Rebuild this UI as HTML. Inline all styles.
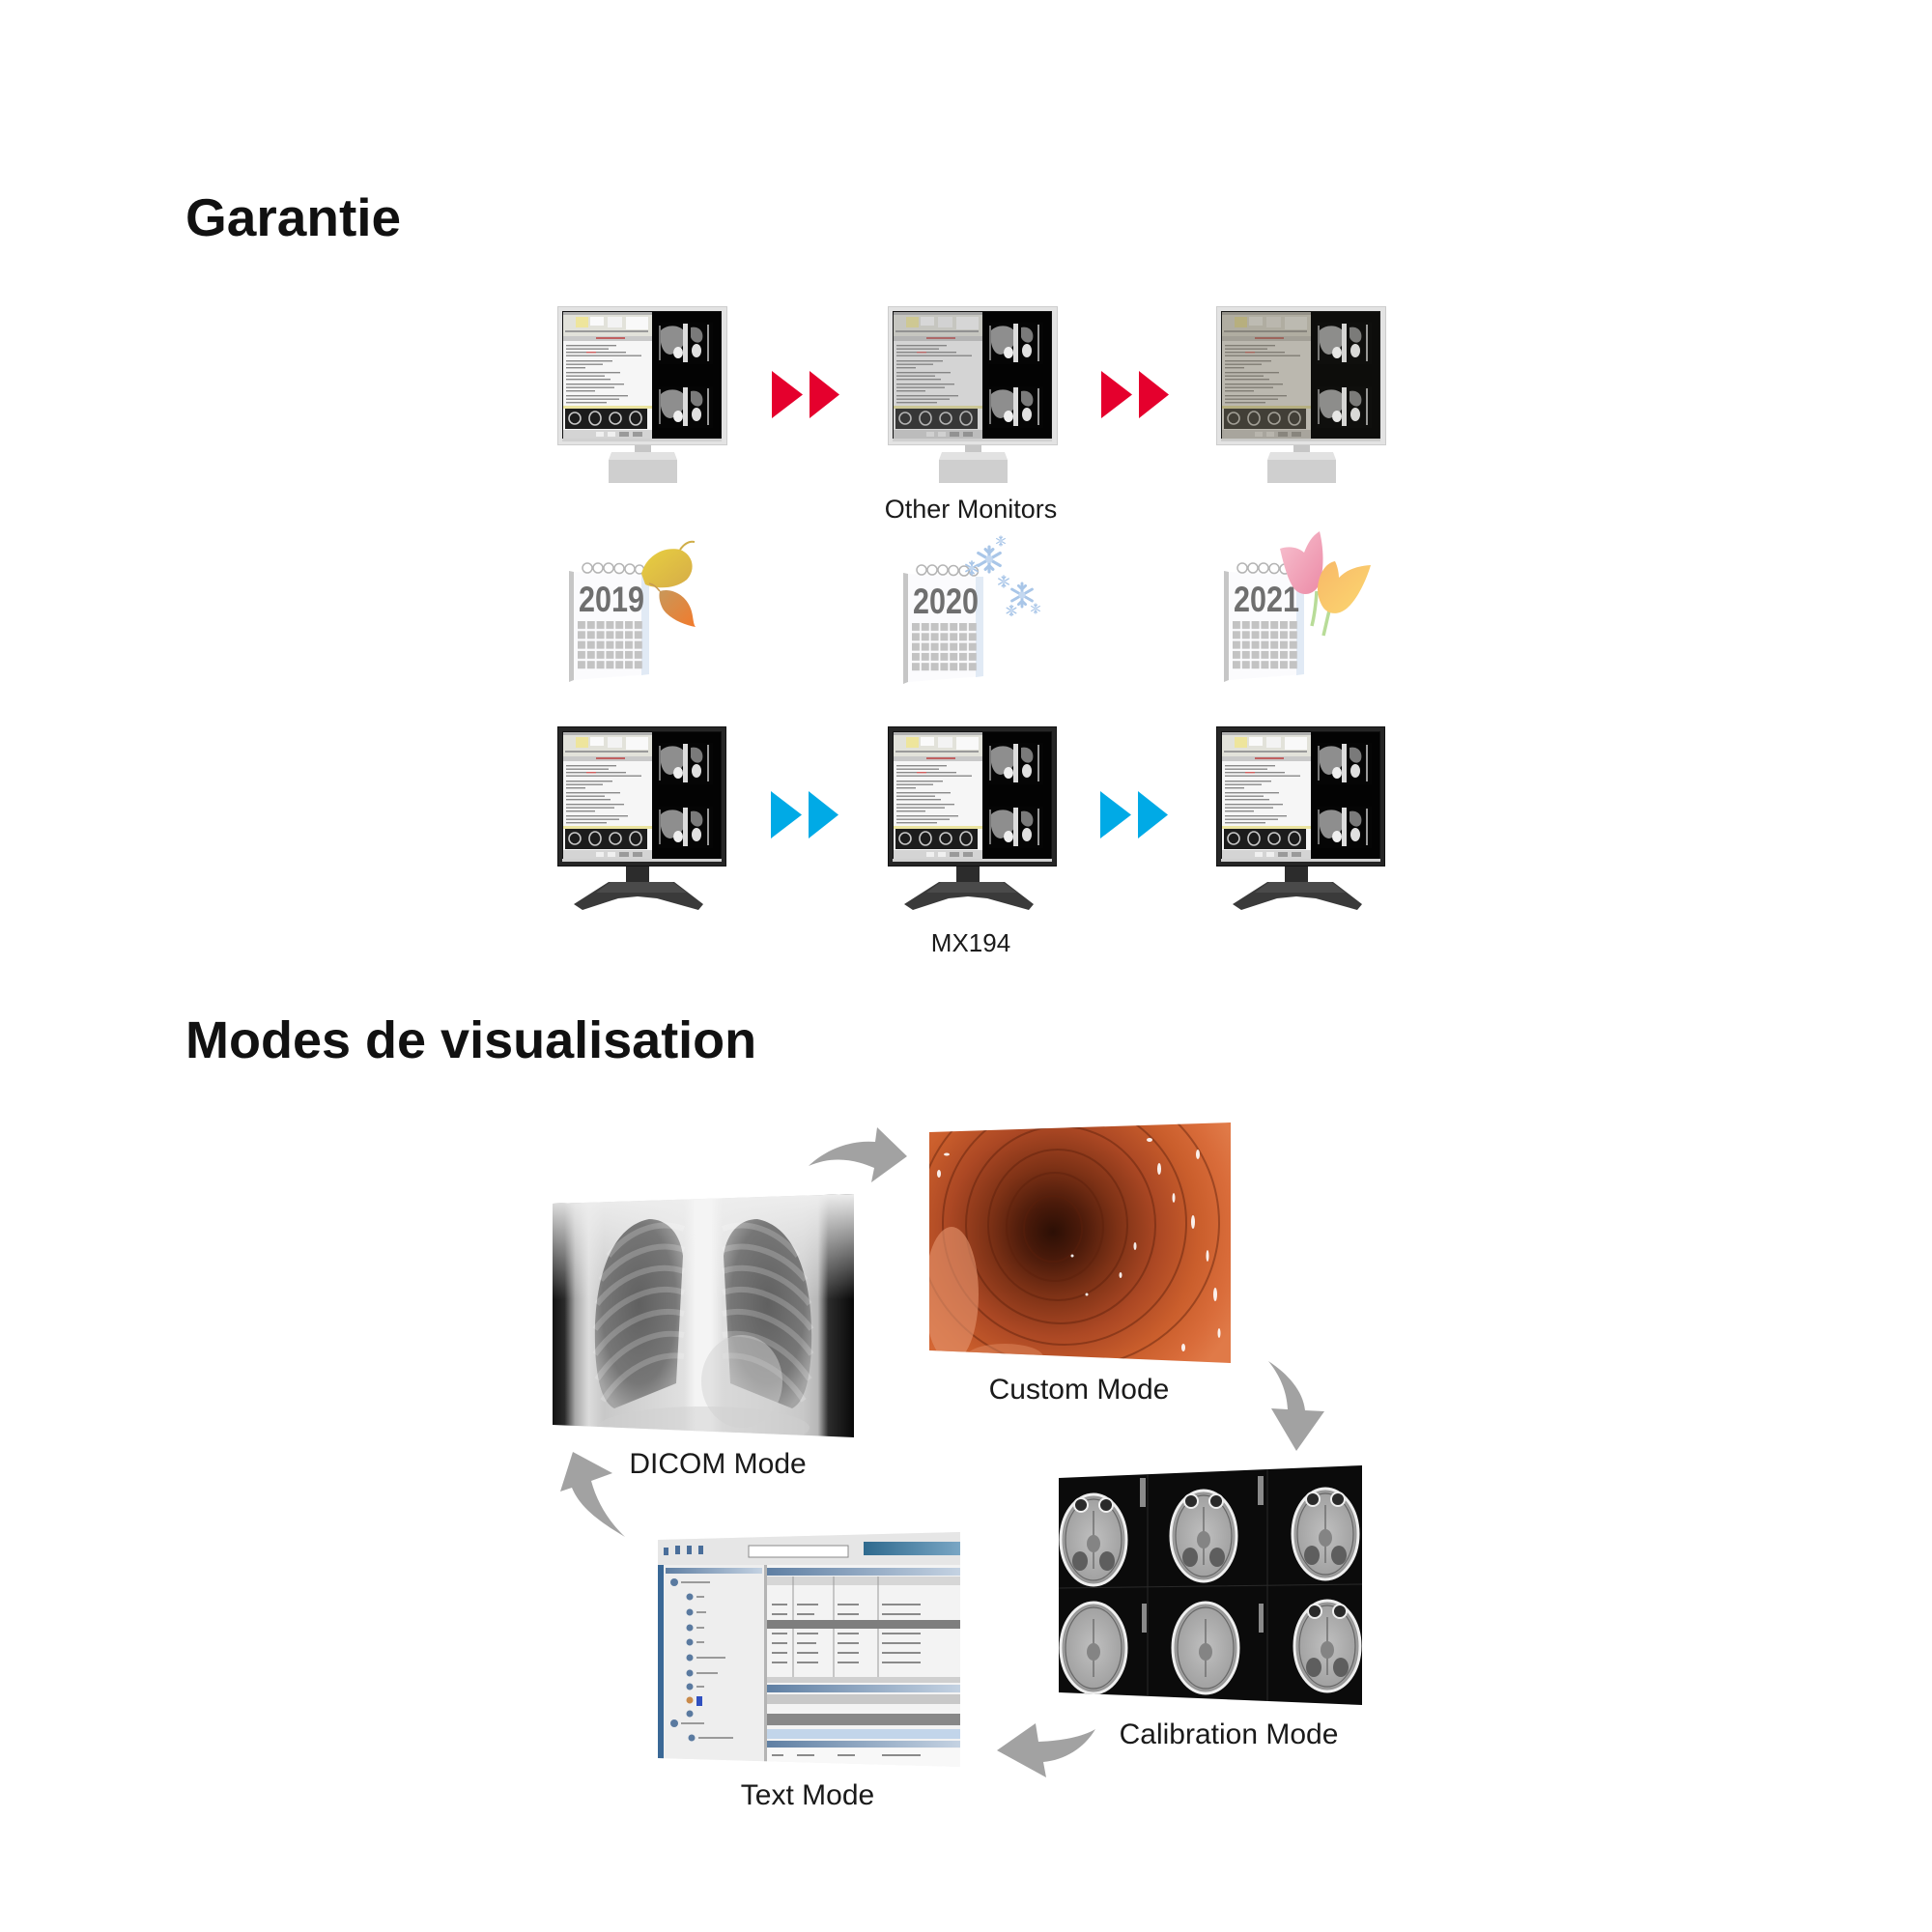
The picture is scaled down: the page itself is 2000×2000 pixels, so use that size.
<!DOCTYPE html>
<html><head><meta charset="utf-8"><style>html,body{margin:0;padding:0;background:#fff}svg{display:block}</style></head>
<body>
<svg width="2000" height="2000" viewBox="0 0 2000 2000" xmlns="http://www.w3.org/2000/svg" xmlns:xlink="http://www.w3.org/1999/xlink">
<defs>
 <g id="ct">
  <rect x="0" y="0" width="57" height="43" fill="#050505"/>
  <path d="M3,8 C10,1 24,2 28,10 C31,20 23,31 13,33 C6,33 1,23 3,8Z" fill="#8e8e8e"/>
  <rect x="26" y="1" width="5" height="40" fill="#dcdcdc"/>
  <ellipse cx="21" cy="31" rx="5" ry="6" fill="#efefef"/>
  <ellipse cx="40" cy="29" rx="5" ry="7" fill="#e0e0e0"/>
  <path d="M34,5 C42,3 48,9 46,17 C44,23 36,21 34,15Z" fill="#7a7a7a"/>
  <rect x="51" y="2" width="2" height="38" fill="#9a9a9a"/>
  <rect x="1" y="3" width="2" height="36" fill="#777"/>
 </g>
 <g id="scr">
  <rect x="5" y="5" width="165" height="134" fill="#111"/>
  <rect x="6" y="6" width="92" height="131" fill="#f6f6f6"/>
  <rect x="6" y="6" width="92" height="3" fill="#b0b0b0"/>
  <rect x="6" y="9" width="92" height="22" fill="#e2e2da"/>
  <rect x="19" y="11" width="13" height="11" fill="#eee59c"/>
  <rect x="34" y="11" width="14" height="9" fill="#fafafa"/>
  <rect x="52" y="11" width="15" height="11" fill="#f3f3f3"/>
  <rect x="71" y="11" width="23" height="13" fill="#f9f9f9"/>
  <rect x="8" y="25" width="86" height="2" fill="#9a9a9a"/>
  <rect x="6" y="31" width="92" height="5" fill="#c9c9c9"/>
  <rect x="40" y="32" width="30" height="2" fill="#c06060"/>
  <g fill="#8a8a8a">
   <rect x="9" y="40" width="52" height="1.4"/><rect x="9" y="43.5" width="44" height="1.4"/>
   <rect x="9" y="47" width="62" height="1.4"/><rect x="9" y="50.5" width="78" height="1.4"/>
   <rect x="9" y="56" width="48" height="1.4"/><rect x="9" y="59.5" width="38" height="1.4"/>
   <rect x="9" y="63" width="20" height="1.4"/><rect x="9" y="68" width="56" height="1.4"/>
   <rect x="9" y="71.5" width="40" height="1.4"/><rect x="9" y="75" width="46" height="1.4"/>
   <rect x="9" y="80" width="60" height="1.4"/><rect x="9" y="83.5" width="50" height="1.4"/>
   <rect x="9" y="87" width="30" height="1.4"/><rect x="9" y="92" width="64" height="1.4"/>
   <rect x="9" y="95.5" width="55" height="1.4"/><rect x="9" y="99" width="42" height="1.4"/>
  </g>
  <rect x="30" y="47" width="10" height="1.4" fill="#d06060"/>
  <rect x="6" y="103" width="92" height="3" fill="#ebe4a0"/>
  <rect x="8" y="106" width="85" height="21" fill="#1c1c1c"/>
  <g fill="none" stroke="#c8c8c8" stroke-width="1.6">
   <ellipse cx="18" cy="116" rx="6" ry="6"/><ellipse cx="39" cy="116" rx="6" ry="7"/>
   <ellipse cx="60" cy="116" rx="6" ry="6"/><ellipse cx="81" cy="116" rx="6" ry="7"/>
  </g>
  <rect x="6" y="128" width="92" height="9" fill="#d4d4d4"/>
  <rect x="40" y="130" width="8" height="5" fill="#f0f0f0"/><rect x="52" y="130" width="8" height="5" fill="#f0f0f0"/>
  <rect x="64" y="130" width="10" height="5" fill="#9a9a9a"/><rect x="78" y="130" width="10" height="5" fill="#9a9a9a"/>
  <rect x="98" y="6" width="71" height="131" fill="#030303"/>
  <use xlink:href="#ct" x="104" y="17"/>
  <use xlink:href="#ct" x="104" y="83"/>
  <rect x="5" y="137" width="165" height="3" fill="#d0d0d0"/>
 </g>
 <g id="monW">
  <rect x="80" y="142" width="17" height="11" fill="#c6c6c6"/>
  <path d="M56,151 L121,151 L124,159 L53,159Z" fill="#e2e2e2"/>
  <rect x="53" y="159" width="71" height="24" fill="#cfcfcf"/>
  <rect x="0.5" y="0.5" width="175" height="143" fill="#e3e3e3" stroke="#cdcdcd"/>
  <use xlink:href="#scr"/>
 </g>
 <g id="monB">
  <rect x="71" y="143" width="24" height="20" fill="#2c2c2c"/>
  <path d="M53,161 L121,161 L151,184 L146,190 L103,178 L83,176 L63,178 L26,190 L17,184Z" fill="#3a3a3a"/>
  <path d="M55,161 L119,161 L134,172 L40,172Z" fill="#4a4a4a"/>
  <rect x="0.5" y="0.5" width="174" height="144" fill="#262626" stroke="#111"/>
  <use xlink:href="#scr"/>
 </g>
 <pattern id="calgrid" x="18" y="93" width="9.8" height="10.3" patternUnits="userSpaceOnUse">
  <rect width="8" height="8" fill="#c3c3c3"/>
 </pattern>
 <g id="cal">
  <path d="M9,41 L14,42 L14,154 L9,156Z" fill="#c6c6c6"/>
  <path d="M14,42 L92,45 L92,148 L14,154Z" fill="#fbfbfd"/>
  <path d="M84,45 L92,45 L92,148 L84,149Z" fill="#e1eaf5"/>
  <g fill="none" stroke="#b4b4b4" stroke-width="1.5">
   <circle cx="28" cy="38" r="5"/><circle cx="39" cy="38" r="5"/><circle cx="50" cy="38" r="5"/>
   <circle cx="61" cy="38.5" r="5"/><circle cx="72" cy="39" r="5"/><circle cx="82" cy="39.5" r="4.5"/>
  </g>
  <rect x="18" y="93" width="68" height="51" fill="url(#calgrid)"/>
 </g>
 <g id="flake" stroke="#a9c6e8" stroke-width="2.4" stroke-linecap="round" fill="none">
  <path d="M0,-10 L0,10 M-8.7,-5 L8.7,5 M-8.7,5 L8.7,-5"/>
  <path d="M-3,-8 L0,-5 L3,-8 M-3,8 L0,5 L3,8"/>
  <circle r="3" fill="#c4d8f0" stroke="none"/>
 </g>
 <linearGradient id="leafY" x1="0" y1="0" x2="1" y2="1"><stop offset="0" stop-color="#e8d040"/><stop offset="1" stop-color="#d6ac48"/></linearGradient>
 <linearGradient id="leafO" x1="0" y1="0" x2="1" y2="1"><stop offset="0" stop-color="#c8985a"/><stop offset="1" stop-color="#f27a2c"/></linearGradient>
 <linearGradient id="tulP" x1="0" y1="0" x2="1" y2="1"><stop offset="0" stop-color="#f7c2d0"/><stop offset="1" stop-color="#ec8aa6"/></linearGradient>
 <linearGradient id="tulY" x1="0" y1="0" x2="1" y2="1"><stop offset="0" stop-color="#f8b868"/><stop offset="1" stop-color="#fbd870"/></linearGradient>

 <clipPath id="cChest"><polygon points="572,1246 884,1236 884,1488 572,1475"/></clipPath>
 <linearGradient id="gChestH" gradientUnits="userSpaceOnUse" x1="572" y1="0" x2="884" y2="0">
  <stop offset="0" stop-color="#121212"/><stop offset="0.04" stop-color="#2a2a2a"/>
  <stop offset="0.075" stop-color="#a8a8a8"/><stop offset="0.12" stop-color="#dcdcdc"/>
  <stop offset="0.17" stop-color="#c8c8c8"/><stop offset="0.5" stop-color="#e6e6e6"/>
  <stop offset="0.83" stop-color="#c8c8c8"/><stop offset="0.88" stop-color="#b8b8b8"/>
  <stop offset="0.915" stop-color="#2c2c2c"/><stop offset="1" stop-color="#080808"/>
 </linearGradient>
 <linearGradient id="gChestTop" gradientUnits="userSpaceOnUse" x1="0" y1="1236" x2="0" y2="1345">
  <stop offset="0" stop-color="#eeeeee" stop-opacity="1"/><stop offset="1" stop-color="#eeeeee" stop-opacity="0"/>
 </linearGradient>
 <radialGradient id="gLung" cx="0.5" cy="0.45" r="0.6">
  <stop offset="0" stop-color="#606060"/><stop offset="0.7" stop-color="#777777"/><stop offset="1" stop-color="#a4a4a4"/>
 </radialGradient>
 <linearGradient id="gSpine" x1="0" y1="0" x2="1" y2="0">
  <stop offset="0" stop-color="#f2f2f2" stop-opacity="0"/><stop offset="0.3" stop-color="#f4f4f4"/><stop offset="0.7" stop-color="#f4f4f4"/><stop offset="1" stop-color="#f2f2f2" stop-opacity="0"/>
 </linearGradient>

 <clipPath id="cEndo"><polygon points="962,1172 1274,1162 1274,1411 962,1398"/></clipPath>
 <radialGradient id="gEndo" gradientUnits="userSpaceOnUse" cx="1090" cy="1275" r="210">
  <stop offset="0" stop-color="#2c0f05"/><stop offset="0.14" stop-color="#4a1a0a"/>
  <stop offset="0.32" stop-color="#7e3216"/><stop offset="0.52" stop-color="#ac4824"/>
  <stop offset="0.72" stop-color="#ca5e2c"/><stop offset="0.88" stop-color="#d96c3a"/>
  <stop offset="1" stop-color="#e07a48"/>
 </radialGradient>

 <clipPath id="cBrain"><polygon points="1096,1530 1410,1517 1410,1765 1096,1752"/></clipPath>
 <radialGradient id="gBrain" cx="0.5" cy="0.5" r="0.55">
  <stop offset="0" stop-color="#c0c0c0"/><stop offset="0.8" stop-color="#a2a2a2"/><stop offset="1" stop-color="#7a7a7a"/>
 </radialGradient>
 <g id="slice">
  <ellipse cx="0" cy="0" rx="34" ry="47" fill="url(#gBrain)" stroke="#eeeeee" stroke-width="3"/>
  <ellipse cx="0" cy="0" rx="29" ry="42" fill="none" stroke="#666" stroke-width="1.2"/>
  <path d="M0,-30 L0,30" stroke="#707070" stroke-width="1.5"/>
  <ellipse cx="0" cy="4" rx="7" ry="9" fill="#848484"/>
 </g>
 <g id="sliceT">
  <use xlink:href="#slice"/>
  <circle cx="-13" cy="-36" r="7" fill="#2a2a2a" stroke="#eeeeee" stroke-width="2"/>
  <circle cx="13" cy="-36" r="7" fill="#2a2a2a" stroke="#eeeeee" stroke-width="2"/>
  <ellipse cx="-14" cy="22" rx="8" ry="10" fill="#5e5e5e"/>
  <ellipse cx="14" cy="22" rx="8" ry="10" fill="#5e5e5e"/>
 </g>

 <clipPath id="cText"><polygon points="681,1594 994,1586 994,1829 681,1820"/></clipPath>
 <linearGradient id="gBlueBar" x1="0" y1="0" x2="1" y2="0"><stop offset="0" stop-color="#2f6a8e"/><stop offset="1" stop-color="#79a6c4"/></linearGradient>
 <linearGradient id="gHdr" x1="0" y1="0" x2="1" y2="0"><stop offset="0" stop-color="#5f7fa3"/><stop offset="1" stop-color="#c4d2e2"/></linearGradient>
</defs>

<rect width="2000" height="2000" fill="#ffffff"/>

<text x="192" y="244" font-family="'Liberation Sans', sans-serif" font-weight="700" font-size="55" fill="#111">Garantie</text>
<text x="192" y="1095" font-family="'Liberation Sans', sans-serif" font-weight="700" font-size="54" fill="#111">Modes de visualisation</text>

<use xlink:href="#monW" x="577" y="317"/>
<use xlink:href="#monW" x="919" y="317"/>
<rect x="925" y="323" width="92" height="131" fill="#7c7c7c" opacity="0.28"/>
<use xlink:href="#monW" x="1259" y="317"/>
<rect x="1265" y="323" width="92" height="131" fill="#6e6656" opacity="0.4"/>
<rect x="1264" y="322" width="165" height="134" fill="#908878" opacity="0.08"/>

<g fill="#e5002d">
 <polygon points="799,384 831,408.5 799,433"/><polygon points="838,384 869,408.5 838,433"/>
 <polygon points="1140,384 1172,408.5 1140,433"/><polygon points="1179,384 1210,408.5 1179,433"/>
</g>

<text x="1005" y="536" text-anchor="middle" font-family="'Liberation Sans', sans-serif" font-size="27" fill="#1a1a1a">Other Monitors</text>

<g transform="translate(580,550)">
 <use xlink:href="#cal"/>
 <text x="19" y="83" font-family="'Liberation Sans', sans-serif" font-weight="700" font-size="37" fill="#6f6f6f" textLength="68" lengthAdjust="spacingAndGlyphs">2019</text>
 <path d="M84,44 C88,28 104,15 124,19 C137,24 141,39 131,50 C119,60 99,60 88,55Z" fill="url(#leafY)"/>
 <path d="M124,19 C129,12 134,10 139,11" fill="none" stroke="#cfae48" stroke-width="2"/>
 <path d="M103,62 C115,58 130,66 135,80 C138,88 137,95 140,99 C128,97 112,90 106,80 C102,72 102,66 103,62Z" fill="url(#leafO)"/>
 <path d="M103,62 C100,58 96,55 92,54" fill="none" stroke="#c89a50" stroke-width="1.5"/>
</g>
<g transform="translate(926,552)">
 <use xlink:href="#cal"/>
 <text x="19" y="83" font-family="'Liberation Sans', sans-serif" font-weight="700" font-size="37" fill="#6f6f6f" textLength="68" lengthAdjust="spacingAndGlyphs">2020</text>
 <use xlink:href="#flake" transform="translate(98,27) scale(1.3)"/>
 <use xlink:href="#flake" transform="translate(132,64) scale(1.2)"/>
 <use xlink:href="#flake" transform="translate(80,36) scale(0.7)"/>
 <use xlink:href="#flake" transform="translate(113,50) scale(0.6)"/>
 <use xlink:href="#flake" transform="translate(121,80) scale(0.55)"/>
 <use xlink:href="#flake" transform="translate(146,78) scale(0.5)"/>
 <use xlink:href="#flake" transform="translate(110,8) scale(0.5)"/>
</g>
<g transform="translate(1258,550)">
 <use xlink:href="#cal"/>
 <text x="19" y="83" font-family="'Liberation Sans', sans-serif" font-weight="700" font-size="37" fill="#6f6f6f" textLength="68" lengthAdjust="spacingAndGlyphs">2021</text>
 <path d="M105,62 C104,78 102,90 100,98" fill="none" stroke="#b8dc98" stroke-width="3.5"/>
 <path d="M119,78 C116,90 114,100 112,108" fill="none" stroke="#b8dc98" stroke-width="3.5"/>
 <path d="M67,18 C78,14 88,18 92,22 C96,12 100,5 108,0 C113,20 113,45 106,58 C99,68 86,67 80,57 C73,45 70,30 67,18Z" fill="url(#tulP)"/>
 <path d="M107,52 C110,38 118,32 124,31 C127,37 128,44 128,48 C136,40 146,36 161,35 C156,52 146,72 136,80 C126,88 115,86 110,76 C106,68 105,60 107,52Z" fill="url(#tulY)"/>
</g>

<use xlink:href="#monB" x="577" y="752"/>
<use xlink:href="#monB" x="919" y="752"/>
<use xlink:href="#monB" x="1259" y="752"/>
<g fill="#00aae6">
 <polygon points="798,819 830,843.5 798,868"/><polygon points="837,819 868,843.5 837,868"/>
 <polygon points="1139,819 1171,843.5 1139,868"/><polygon points="1178,819 1209,843.5 1178,868"/>
</g>
<text x="1005" y="985" text-anchor="middle" font-family="'Liberation Sans', sans-serif" font-size="26" fill="#1a1a1a">MX194</text>

<g clip-path="url(#cChest)">
 <rect x="572" y="1236" width="312" height="252" fill="url(#gChestH)"/>
 <rect x="572" y="1236" width="312" height="110" fill="url(#gChestTop)"/>
 <path d="M672,1262 C630,1270 614,1330 616,1392 C617,1430 624,1452 636,1458 L700,1432 L707,1300 C704,1276 690,1262 672,1262Z" fill="url(#gLung)"/>
 <path d="M784,1262 C826,1270 842,1330 840,1392 C839,1430 832,1452 820,1458 L756,1432 L749,1300 C752,1276 766,1262 784,1262Z" fill="url(#gLung)"/>
 <g fill="none" stroke="#ffffff" stroke-opacity="0.2" stroke-width="6">
  <path d="M708,1272 C680,1262 650,1275 630,1300"/><path d="M708,1294 C680,1284 645,1297 622,1325"/>
  <path d="M708,1316 C678,1306 642,1320 618,1350"/><path d="M708,1338 C678,1328 640,1344 616,1376"/>
  <path d="M708,1360 C678,1352 640,1368 616,1402"/><path d="M708,1382 C678,1376 642,1392 618,1428"/>
  <path d="M708,1404 C680,1400 646,1416 624,1450"/>
  <path d="M748,1272 C776,1262 806,1275 826,1300"/><path d="M748,1294 C776,1284 811,1297 834,1325"/>
  <path d="M748,1316 C778,1306 814,1320 838,1350"/><path d="M748,1338 C778,1328 816,1344 840,1376"/>
  <path d="M748,1360 C778,1352 816,1368 840,1402"/><path d="M748,1382 C778,1376 814,1392 838,1428"/>
  <path d="M748,1404 C776,1400 810,1416 832,1450"/>
 </g>
 <rect x="708" y="1236" width="40" height="252" fill="url(#gSpine)"/>
 <ellipse cx="768" cy="1430" rx="42" ry="48" fill="#d2d2d2" opacity="0.5"/>
 <ellipse cx="728" cy="1478" rx="110" ry="22" fill="#d0d0d0" opacity="0.5"/>
</g>

<g clip-path="url(#cEndo)">
 <rect x="962" y="1162" width="312" height="250" fill="url(#gEndo)"/>
 <g fill="none" stroke="#5a1e0a" stroke-opacity="0.45" stroke-width="2">
  <ellipse cx="1090" cy="1272" rx="30" ry="34"/><ellipse cx="1092" cy="1270" rx="50" ry="56"/>
  <ellipse cx="1095" cy="1268" rx="72" ry="78"/><ellipse cx="1098" cy="1268" rx="98" ry="102"/>
  <ellipse cx="1102" cy="1266" rx="126" ry="126"/><ellipse cx="1106" cy="1266" rx="156" ry="150"/>
 </g>
 <ellipse cx="985" cy="1340" rx="28" ry="70" fill="#e2916a" opacity="0.65"/>
 <ellipse cx="1040" cy="1405" rx="40" ry="14" fill="#e08a60" opacity="0.5"/>
 <g fill="#ffffff" opacity="0.9">
  <ellipse cx="1200" cy="1210" rx="2" ry="6"/><ellipse cx="1215" cy="1240" rx="1.5" ry="5"/>
  <ellipse cx="1235" cy="1265" rx="2" ry="7"/><ellipse cx="1250" cy="1300" rx="1.5" ry="6"/>
  <ellipse cx="1258" cy="1340" rx="2" ry="7"/><ellipse cx="1262" cy="1380" rx="1.5" ry="5"/>
  <ellipse cx="1190" cy="1180" rx="3" ry="2"/><ellipse cx="1240" cy="1195" rx="2" ry="5"/>
  <ellipse cx="1175" cy="1290" rx="1.5" ry="4"/><ellipse cx="1160" cy="1320" rx="1.5" ry="3"/>
  <ellipse cx="1110" cy="1300" rx="1.5" ry="1.5"/><ellipse cx="1125" cy="1340" rx="1.5" ry="1.5"/>
  <ellipse cx="980" cy="1195" rx="3" ry="1.5"/><ellipse cx="972" cy="1215" rx="2" ry="4"/>
  <ellipse cx="1225" cy="1395" rx="2" ry="4"/>
 </g>
</g>
<text x="1117" y="1448" text-anchor="middle" font-family="'Liberation Sans', sans-serif" font-size="30" fill="#1a1a1a">Custom Mode</text>
<text x="743" y="1525" text-anchor="middle" font-family="'Liberation Sans', sans-serif" font-size="30" fill="#1a1a1a">DICOM Mode</text>

<g clip-path="url(#cBrain)">
 <rect x="1096" y="1517" width="314" height="248" fill="#0b0b0b"/>
 <path d="M1096,1644 L1410,1640 M1188,1520 L1188,1765 M1312,1520 L1312,1765" stroke="#2a2a2a" stroke-width="1"/>
 <use xlink:href="#sliceT" x="1132" y="1594"/>
 <use xlink:href="#sliceT" x="1246" y="1590"/>
 <use xlink:href="#sliceT" x="1372" y="1588"/>
 <use xlink:href="#slice" x="1132" y="1706"/>
 <use xlink:href="#slice" x="1248" y="1706"/>
 <use xlink:href="#sliceT" x="1374" y="1704"/>
 <g fill="#8a8a8a">
  <rect x="1180" y="1530" width="6" height="30"/><rect x="1302" y="1528" width="6" height="30"/>
  <rect x="1182" y="1660" width="5" height="30"/><rect x="1303" y="1660" width="5" height="30"/>
 </g>
</g>
<text x="1272" y="1805" text-anchor="middle" font-family="'Liberation Sans', sans-serif" font-size="30" fill="#1a1a1a">Calibration Mode</text>

<g clip-path="url(#cText)">
 <g transform="translate(681,1586)">
  <rect x="0" y="0" width="313" height="245" fill="#f3f3f3"/>
  <rect x="0" y="0" width="313" height="34" fill="#e6e6e6"/>
  <g fill="#4a6e9a"><rect x="6" y="16" width="5" height="8"/><rect x="18" y="14" width="5" height="9"/><rect x="30" y="14" width="5" height="9"/><rect x="42" y="14" width="5" height="9"/></g>
  <rect x="94" y="14" width="103" height="12" fill="#ffffff" stroke="#8a8a8a"/>
  <rect x="213" y="10" width="100" height="14" fill="url(#gBlueBar)"/>
  <rect x="0" y="34" width="110" height="211" fill="#eeeeee"/>
  <rect x="0" y="34" width="6" height="211" fill="#3a6896"/>
  <rect x="8" y="37" width="100" height="6" fill="url(#gHdr)"/>
  <g fill="#5a7aa0">
   <circle cx="17" cy="52" r="4"/>
   <circle cx="33" cy="67" r="3.5"/><circle cx="33" cy="83" r="3.5"/><circle cx="33" cy="99" r="3.5"/>
   <circle cx="33" cy="114" r="3.5"/><circle cx="33" cy="130" r="3.5"/><circle cx="33" cy="146" r="3.5"/>
   <circle cx="33" cy="160" r="3.5"/><circle cx="33" cy="188" r="3.5"/><circle cx="17" cy="198" r="4"/>
   <circle cx="35" cy="213" r="3.5"/>
  </g>
  <circle cx="33" cy="174" r="3.5" fill="#c98a4a"/><rect x="40" y="170" width="6" height="10" fill="#3050c0"/>
  <g fill="#9a9a9a">
   <rect x="24" y="51" width="30" height="2"/><rect x="40" y="66" width="8" height="2"/><rect x="40" y="82" width="10" height="2"/>
   <rect x="40" y="98" width="8" height="2"/><rect x="40" y="113" width="8" height="2"/><rect x="40" y="129" width="30" height="2"/>
   <rect x="40" y="145" width="22" height="2"/><rect x="40" y="159" width="8" height="2"/><rect x="24" y="197" width="24" height="2"/>
   <rect x="42" y="212" width="36" height="2"/>
  </g>
  <rect x="110" y="34" width="3" height="211" fill="#b4b4b4"/>
  <rect x="113" y="37" width="200" height="8" fill="url(#gHdr)"/>
  <rect x="113" y="46" width="200" height="9" fill="#d6d6d6"/>
  <g stroke="#9a9a9a" stroke-width="1"><path d="M140,46 V150 M182,46 V150 M228,46 V150"/></g>
  <g fill="#8a8a8a">
   <rect x="118" y="74" width="16" height="2"/><rect x="144" y="74" width="22" height="2"/><rect x="186" y="74" width="22" height="2"/><rect x="232" y="74" width="40" height="2"/>
   <rect x="118" y="84" width="16" height="2"/><rect x="144" y="84" width="18" height="2"/><rect x="186" y="84" width="22" height="2"/><rect x="232" y="84" width="40" height="2"/>
   <rect x="118" y="104" width="16" height="2"/><rect x="144" y="104" width="22" height="2"/><rect x="186" y="104" width="22" height="2"/><rect x="232" y="104" width="40" height="2"/>
   <rect x="118" y="114" width="16" height="2"/><rect x="144" y="114" width="20" height="2"/><rect x="186" y="114" width="22" height="2"/><rect x="232" y="114" width="40" height="2"/>
   <rect x="118" y="124" width="16" height="2"/><rect x="144" y="124" width="22" height="2"/><rect x="186" y="124" width="22" height="2"/><rect x="232" y="124" width="40" height="2"/>
   <rect x="118" y="134" width="16" height="2"/><rect x="144" y="134" width="22" height="2"/><rect x="186" y="134" width="22" height="2"/><rect x="232" y="134" width="40" height="2"/>
  </g>
  <rect x="113" y="91" width="200" height="9" fill="#7e7e7e"/>
  <rect x="113" y="150" width="200" height="6" fill="#cfcfcf"/>
  <rect x="113" y="158" width="200" height="8" fill="url(#gHdr)"/>
  <rect x="113" y="168" width="200" height="10" fill="#c8c8c8"/>
  <rect x="113" y="188" width="200" height="12" fill="#888888"/>
  <rect x="113" y="204" width="200" height="10" fill="#c2d5ea"/>
  <rect x="113" y="216" width="200" height="7" fill="url(#gHdr)"/>
  <rect x="113" y="224" width="200" height="21" fill="#f8f8f8"/>
  <g fill="#8a8a8a"><rect x="118" y="230" width="12" height="2"/><rect x="144" y="230" width="18" height="2"/><rect x="186" y="230" width="18" height="2"/><rect x="232" y="230" width="40" height="2"/></g>
 </g>
</g>
<text x="836" y="1868" text-anchor="middle" font-family="'Liberation Sans', sans-serif" font-size="30" fill="#1a1a1a">Text Mode</text>

<g fill="#a2a2a2">
 <path d="M837,1207 C855,1190 880,1180 906,1182 L908,1167 L939,1197 L902,1224 L905,1209 C880,1198 858,1198 837,1207Z"/>
 <path d="M1313,1409 C1333,1422 1349,1440 1351,1460 L1371,1461 L1342,1502 L1316,1458 L1333,1459 C1332,1440 1325,1424 1313,1409Z"/>
 <path d="M1134,1790 C1122,1810 1102,1822 1080,1824 L1083,1840 L1032,1812 L1072,1784 L1075,1803 C1100,1802 1120,1798 1134,1790Z"/>
 <path d="M647,1591 C620,1575 600,1560 592,1540 L580,1544 L593,1503 L634,1525 L612,1533 C618,1555 630,1575 647,1591Z"/>
</g>
</svg>
</body></html>
